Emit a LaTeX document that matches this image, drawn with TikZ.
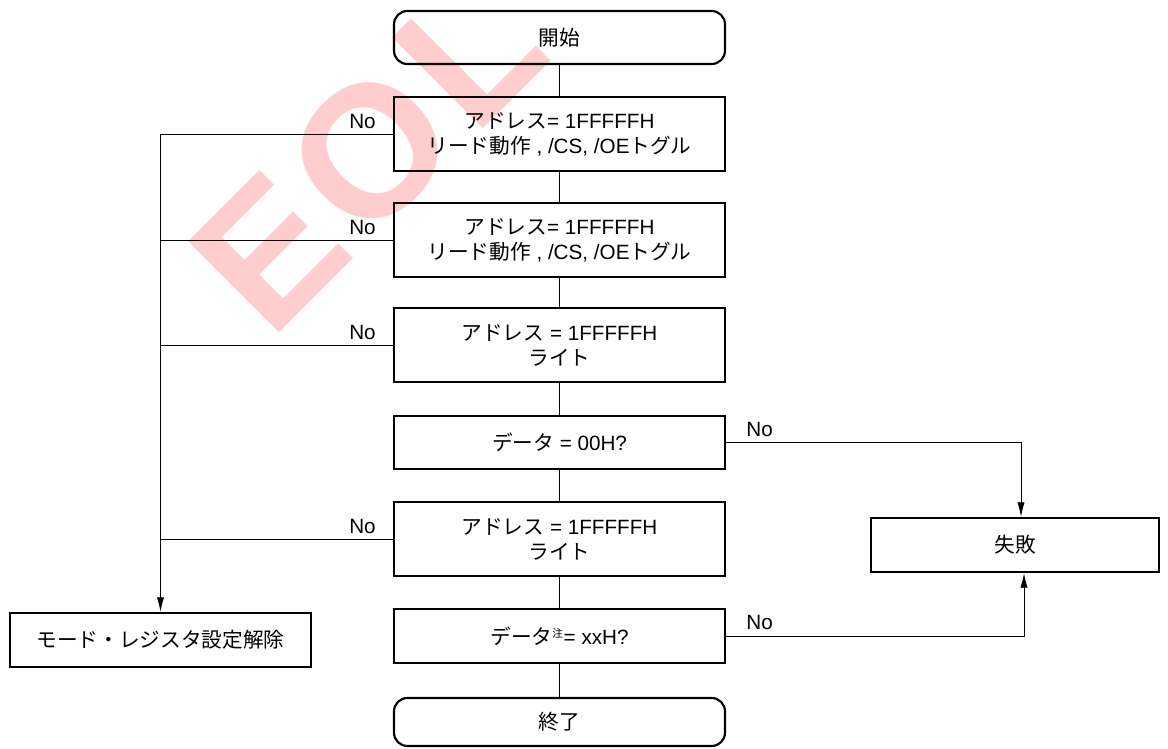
\documentclass[tikz,border=0pt]{standalone}
\usepackage{fontspec}
\setmainfont{Liberation Sans}
\newfontfamily\jp{Noto Sans CJK JP}
\usetikzlibrary{arrows.meta,calc}
\definecolor{wm}{RGB}{255,205,205}
\begin{document}
\begin{tikzpicture}[x=0.75pt,y=-0.75pt,
  every node/.style={font=\fontsize{15.5}{18.75}\selectfont},
  box/.style={draw, line width=1.6pt, minimum width=248.25pt, align=center, inner sep=0pt},
  term/.style={box, rounded corners=10pt},
  conn/.style={line width=0.7pt},
  arr/.style={conn, -{Latex[length=11pt,width=5.5pt]}},
  nolab/.style={inner sep=0pt}
]
\useasboundingbox (0,0) rectangle (1168,749);
\begin{scope}
\clip (0,0) rectangle (1168,749);
\node[rotate=45, anchor=base west, text=wm, inner sep=0pt, font=\fontsize{140}{140}\selectfont\bfseries] (wm) at (270,342) {E\kern7pt O\kern7pt L};
\end{scope}

\node[term, minimum height=39.75pt] (start) at (559.5,37.5) {\jp 開始};
\node[box, minimum height=55.5pt] (b1) at (559.5,134) {{\jp アドレス}= 1FFFFFH\\{\jp リード動作} , /CS, /OE{\jp トグル}};
\node[box, minimum height=55.5pt] (b2) at (559.5,240) {{\jp アドレス}= 1FFFFFH\\{\jp リード動作} , /CS, /OE{\jp トグル}};
\node[box, minimum height=55.5pt] (b3) at (559.5,345) {{\jp アドレス} = 1FFFFFH\\{\jp ライト}};
\node[box, minimum height=39.75pt] (b4) at (559.5,442.5) {{\jp データ} = 00H?};
\node[box, minimum height=55.5pt] (b5) at (559.5,539) {{\jp アドレス} = 1FFFFFH\\{\jp ライト}};
\node[box, minimum height=40.5pt] (b6) at (559.5,636) {{\jp データ}\textsuperscript{\jp\fontsize{8}{8}\selectfont 注}= xxH?};
\node[term, minimum height=36pt] (end) at (559.5,722) {\jp 終了};

\node[box, minimum width=225.75pt, minimum height=40.5pt] (mreg) at (160.5,640) {\jp モード・レジスタ設定解除};
\node[box, minimum width=216pt, minimum height=40.5pt] (fail) at (1015,545) {\jp 失敗};

\draw[conn] (start) -- (b1);
\draw[conn] (b1) -- (b2);
\draw[conn] (b2) -- (b3);
\draw[conn] (b3) -- (b4);
\draw[conn] (b4) -- (b5);
\draw[conn] (b5) -- (b6);
\draw[conn] (b6) -- (end);

\draw[arr] (b1.west) -| (mreg.north);
\draw[conn] (b2.west) -- (b2.west -| mreg.north);
\draw[conn] (b3.west) -- (b3.west -| mreg.north);
\draw[conn] (b5.west) -- (b5.west -| mreg.north);

\draw[arr] (b4.east) -| ([xshift=4.5pt]fail.north);
\draw[arr] (b6.east) -| ([xshift=6.75pt]fail.south);

\node[nolab, anchor=south east] (n1) at ([xshift=-12.75pt,yshift=4pt]b1.west) {No};
\node[nolab, anchor=south east] (n2) at ([xshift=-12.75pt,yshift=4pt]b2.west) {No};
\node[nolab, anchor=south east] (n3) at ([xshift=-12.75pt,yshift=4pt]b3.west) {No};
\node[nolab, anchor=south east] (n5) at ([xshift=-12.75pt,yshift=4pt]b5.west) {No};
\node[nolab, anchor=south west] (n4) at ([xshift=15pt,yshift=4.5pt]b4.east) {No};
\node[nolab, anchor=south west] (n6) at ([xshift=15pt,yshift=4.5pt]b6.east) {No};
\end{tikzpicture}
\end{document}
